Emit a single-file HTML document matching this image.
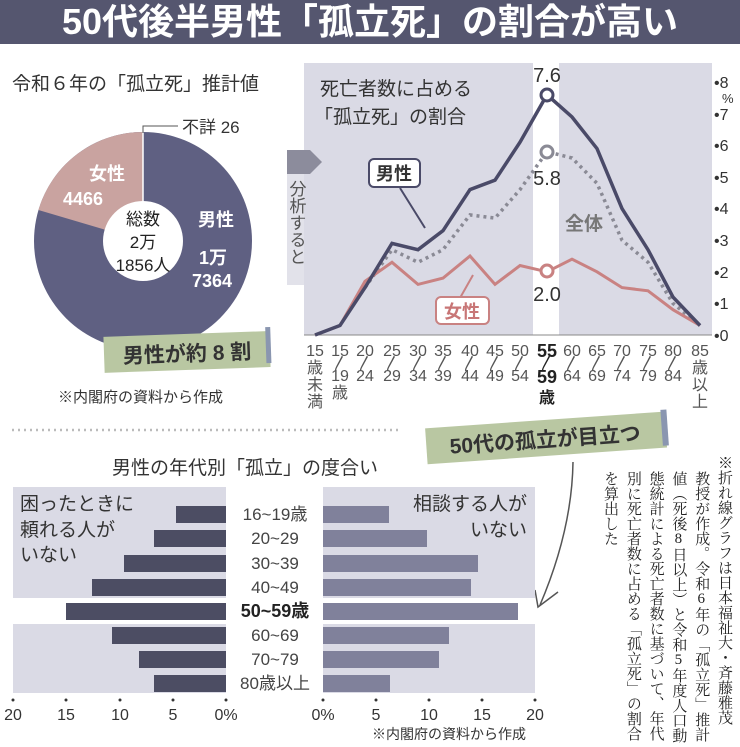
<!DOCTYPE html>
<html><head><meta charset="utf-8"><style>
body{margin:0;width:740px;height:747px;overflow:hidden;background:#fff;font-family:"Liberation Sans","Noto Sans CJK JP",sans-serif;}
svg text{font-family:"Liberation Sans","Noto Sans CJK JP",sans-serif;}
.vt{position:absolute;right:5px;top:455px;height:292px;writing-mode:vertical-rl;text-orientation:upright;font-family:"Liberation Serif","Noto Serif CJK SC",serif;font-size:15px;line-height:22.8px;color:#222;white-space:nowrap;}
</style></head><body>
<svg width="740" height="747" viewBox="0 0 740 747" style="position:absolute;left:0;top:0">
<rect x="0" y="0" width="740" height="44" fill="#55566f"/>
<text x="370" y="34" text-anchor="middle" font-size="36" font-weight="bold" fill="#fff">50代後半男性「孤立死」の割合が高い</text>
<text x="12" y="90" font-size="19" fill="#333">令和６年の「孤立死」推計値</text>
<circle cx="143" cy="241" r="109" fill="#5f6082"/>
<path d="M143 241 L143 132 A109 109 0 0 0 38.4 210 Z" fill="#c9a3a0"/>
<line x1="143" y1="132" x2="143" y2="241" stroke="#fff" stroke-width="1.5"/>
<circle cx="143" cy="241" r="40" fill="#fff"/>
<polyline points="143,133 143,126 178,126" fill="none" stroke="#555" stroke-width="1"/>
<text x="182" y="133" font-size="17" fill="#333">不詳 26</text>
<text x="107" y="180" font-size="18" font-weight="bold" fill="#fff" text-anchor="middle">女性</text>
<text x="83" y="205" font-size="18" font-weight="bold" fill="#fff" text-anchor="middle">4466</text>
<text x="216" y="226" font-size="18" font-weight="bold" fill="#fff" text-anchor="middle">男性</text>
<text x="213" y="264" font-size="18" font-weight="bold" fill="#fff" text-anchor="middle">1万</text>
<text x="212" y="287" font-size="18" font-weight="bold" fill="#fff" text-anchor="middle">7364</text>
<text x="143" y="225" font-size="17" fill="#222" text-anchor="middle">総数</text>
<text x="143" y="248" font-size="17" fill="#222" text-anchor="middle">2万</text>
<text x="143" y="271" font-size="17" fill="#222" text-anchor="middle">1856人</text>
<g transform="rotate(-2 185 352)">
<rect x="104" y="334" width="166" height="36" fill="#b9c7a2"/>
<rect x="266" y="330" width="5" height="36" fill="#8a96b0"/>
<text x="187" y="361" font-size="21" font-weight="bold" fill="#333" text-anchor="middle">男性が約 8 割</text>
</g>
<text x="58" y="402" font-size="15" fill="#333" font-family="Liberation Serif,Noto Serif CJK SC,serif">※内閣府の資料から作成</text>
<rect x="304" y="63" width="408" height="272" fill="#dadae5"/>
<rect x="533" y="63" width="26" height="272" fill="#fff"/>
<rect x="287" y="170" width="17" height="115" fill="#e2e2ea"/>
<polygon points="287,150 310,150 322,162 310,174 287,174" fill="#8c8c9c"/>
<text x="296" y="180" font-size="17" fill="#555" style="writing-mode:vertical-rl">分析すると</text>
<text x="320" y="95" font-size="19" fill="#333">死亡者数に占める</text>
<text x="314" y="123" font-size="19" fill="#333">「孤立死」の割合</text>
<g font-size="16" fill="#333">
<text x="714" y="88">•8</text><text x="722" y="103" font-size="13">%</text>
<text x="714" y="120">•7</text><text x="714" y="151">•6</text><text x="714" y="183">•5</text>
<text x="714" y="214">•4</text><text x="714" y="246">•3</text><text x="714" y="278">•2</text>
<text x="714" y="309">•1</text><text x="714" y="341">•0</text>
</g>
<line x1="304" y1="335" x2="712" y2="335" stroke="#888" stroke-width="1"/>
<polyline points="365,287.6 392,249.7 418,262.3 443,249.7 470,214.9 495,218.1 520,189.6 547,151.7 572,158 597,183.3 622,240.2 648,262.3 673,303.4 700,325.5" fill="none" stroke="#8a8a95" stroke-width="3.5" stroke-dasharray="3 4"/>
<polyline points="315,335 340,325.5 365,281.3 392,262.3 418,284.4 443,278.1 470,256 495,284.4 520,265.5 547,271.8 572,259.2 597,271.8 622,287.6 648,290.8 673,309.7 700,325.5" fill="none" stroke="#c98282" stroke-width="3"/>
<polyline points="315,335 340,325.5 365,287.6 392,243.4 418,249.7 443,230.7 470,189.6 495,180.2 520,142.2 547,94.8 572,117 597,148.6 622,208.6 648,249.7 673,297.1 700,325.5" fill="none" stroke="#4a4a68" stroke-width="3.5"/>
<circle cx="547" cy="95" r="6" fill="#fff" stroke="#4a4a68" stroke-width="3"/>
<circle cx="547" cy="152" r="6" fill="#fff" stroke="#8a8a95" stroke-width="3"/>
<circle cx="547" cy="271" r="6" fill="#fff" stroke="#c98282" stroke-width="3"/>
<text x="547" y="82" font-size="20" fill="#333" text-anchor="middle">7.6</text>
<text x="547" y="185" font-size="20" fill="#333" text-anchor="middle">5.8</text>
<text x="547" y="301" font-size="20" fill="#333" text-anchor="middle">2.0</text>
<text x="565" y="230" font-size="19" font-weight="bold" fill="#777">全体</text>
<line x1="400" y1="188" x2="425" y2="228" stroke="#4a4a68" stroke-width="2"/>
<rect x="369" y="159" width="51" height="28" rx="5" fill="#fff" stroke="#4a4a68" stroke-width="2"/>
<text x="394" y="180" font-size="18" font-weight="bold" fill="#333" text-anchor="middle">男性</text>
<line x1="460" y1="298" x2="473" y2="275" stroke="#c98282" stroke-width="2"/>
<rect x="436" y="297" width="53" height="27" rx="5" fill="#fff" stroke="#c98282" stroke-width="2"/>
<text x="462" y="318" font-size="18" font-weight="bold" fill="#c87676" text-anchor="middle">女性</text>
<g font-size="16" fill="#555" text-anchor="middle">
<text x="315" y="356">15</text><text x="315" y="373">歳</text><text x="315" y="390">未</text><text x="315" y="407">満</text>
<text x="340" y="356">15</text><text x="340" y="369">〳</text><text x="340" y="381">19</text><text x="340" y="398">歳</text>
<text x="365" y="356">20</text><text x="365" y="369">〳</text><text x="365" y="381">24</text>
<text x="392" y="356">25</text><text x="392" y="369">〳</text><text x="392" y="381">29</text>
<text x="418" y="356">30</text><text x="418" y="369">〳</text><text x="418" y="381">34</text>
<text x="443" y="356">35</text><text x="443" y="369">〳</text><text x="443" y="381">39</text>
<text x="470" y="356">40</text><text x="470" y="369">〳</text><text x="470" y="381">44</text>
<text x="495" y="356">45</text><text x="495" y="369">〳</text><text x="495" y="381">49</text>
<text x="520" y="356">50</text><text x="520" y="369">〳</text><text x="520" y="381">54</text>
<text x="547" y="357" font-weight="bold" fill="#222" font-size="18">55</text><text x="547" y="369" fill="#222">〳</text><text x="547" y="383" font-weight="bold" fill="#222" font-size="18">59</text><text x="547" y="403" font-weight="bold" fill="#222">歳</text>
<text x="572" y="356">60</text><text x="572" y="369">〳</text><text x="572" y="381">64</text>
<text x="597" y="356">65</text><text x="597" y="369">〳</text><text x="597" y="381">69</text>
<text x="622" y="356">70</text><text x="622" y="369">〳</text><text x="622" y="381">74</text>
<text x="648" y="356">75</text><text x="648" y="369">〳</text><text x="648" y="381">79</text>
<text x="673" y="356">80</text><text x="673" y="369">〳</text><text x="673" y="381">84</text>
<text x="700" y="356">85</text><text x="700" y="373">歳</text><text x="700" y="390">以</text><text x="700" y="407">上</text>
</g>
<line x1="12" y1="430" x2="400" y2="430" stroke="#bbb" stroke-width="2.5" stroke-dasharray="2 4"/>
<text x="245" y="474" font-size="19" fill="#333" text-anchor="middle">男性の年代別「孤立」の度合い</text>
<g transform="rotate(-4 545 437)">
<rect x="426" y="420" width="240" height="36" fill="#b9c7a2"/>
<rect x="662" y="418" width="6" height="36" fill="#8a96b0"/>
<text x="545" y="447" font-size="21" font-weight="bold" fill="#333" text-anchor="middle">50代の孤立が目立つ</text>
</g>
<path d="M573 462 Q572 530 540 605" fill="none" stroke="#555" stroke-width="1.5"/>
<path d="M535 590 L538 607 L558 592" fill="none" stroke="#555" stroke-width="1.5"/>
<rect x="13" y="487" width="213" height="111" fill="#dadae5"/>
<rect x="13" y="624" width="213" height="69" fill="#dadae5"/>
<rect x="323" y="487" width="212" height="111" fill="#dadae5"/>
<rect x="323" y="624" width="212" height="69" fill="#dadae5"/>
<g fill="#4c4d63">
<rect x="176" y="506" width="50" height="17"/><rect x="154" y="530" width="72" height="17"/>
<rect x="124" y="555" width="102" height="17"/><rect x="92" y="579" width="134" height="17"/>
<rect x="66" y="603" width="160" height="17"/><rect x="112" y="627" width="114" height="17"/>
<rect x="139" y="651" width="87" height="17"/><rect x="154" y="675" width="72" height="17"/>
</g>
<g fill="#80819b">
<rect x="323" y="506" width="66" height="17"/><rect x="323" y="530" width="104" height="17"/>
<rect x="323" y="555" width="155" height="17"/><rect x="323" y="579" width="148" height="17"/>
<rect x="323" y="603" width="195" height="17"/><rect x="323" y="627" width="126" height="17"/>
<rect x="323" y="651" width="116" height="17"/><rect x="323" y="675" width="67" height="17"/>
</g>
<g font-size="17" fill="#444" text-anchor="middle">
<text x="275" y="520">16~19歳</text><text x="275" y="544">20~29</text><text x="275" y="569">30~39</text>
<text x="275" y="593">40~49</text><text x="275" y="617" font-weight="bold" fill="#222" font-size="18">50~59歳</text>
<text x="275" y="641">60~69</text><text x="275" y="665">70~79</text><text x="275" y="689">80歳以上</text>
</g>
<g font-size="19" fill="#333">
<text x="20" y="510">困ったときに</text><text x="20" y="536">頼れる人が</text><text x="20" y="561">いない</text>
<text x="527" y="510" text-anchor="end">相談する人が</text><text x="527" y="536" text-anchor="end">いない</text>
</g>
<g fill="#333"><circle cx="13" cy="700" r="1.5"/><circle cx="66" cy="700" r="1.5"/><circle cx="120" cy="700" r="1.5"/><circle cx="173" cy="700" r="1.5"/><circle cx="226" cy="700" r="1.5"/>
<circle cx="323" cy="700" r="1.5"/><circle cx="376" cy="700" r="1.5"/><circle cx="429" cy="700" r="1.5"/><circle cx="482" cy="700" r="1.5"/><circle cx="535" cy="700" r="1.5"/></g>
<g font-size="16" fill="#333" text-anchor="middle">
<text x="13" y="720">20</text><text x="66" y="720">15</text><text x="120" y="720">10</text><text x="173" y="720">5</text><text x="226" y="720">0%</text>
<text x="323" y="720">0%</text><text x="376" y="720">5</text><text x="429" y="720">10</text><text x="482" y="720">15</text><text x="535" y="720">20</text>
</g>
<text x="372" y="739" font-size="14" fill="#333" font-family="Liberation Serif,Noto Serif CJK SC,serif">※内閣府の資料から作成</text>
</svg>
<div class="vt">※折れ線グラフは日本福祉大・斉藤雅茂<br>&#8194;教授が作成。令和6年の「孤立死」推計<br>&#8194;値（死後8日以上）と令和5年度人口動<br>&#8194;態統計による死亡者数に基づいて、年代<br>&#8194;別に死亡者数に占める「孤立死」の割合<br>&#8194;を算出した</div>
</body></html>
